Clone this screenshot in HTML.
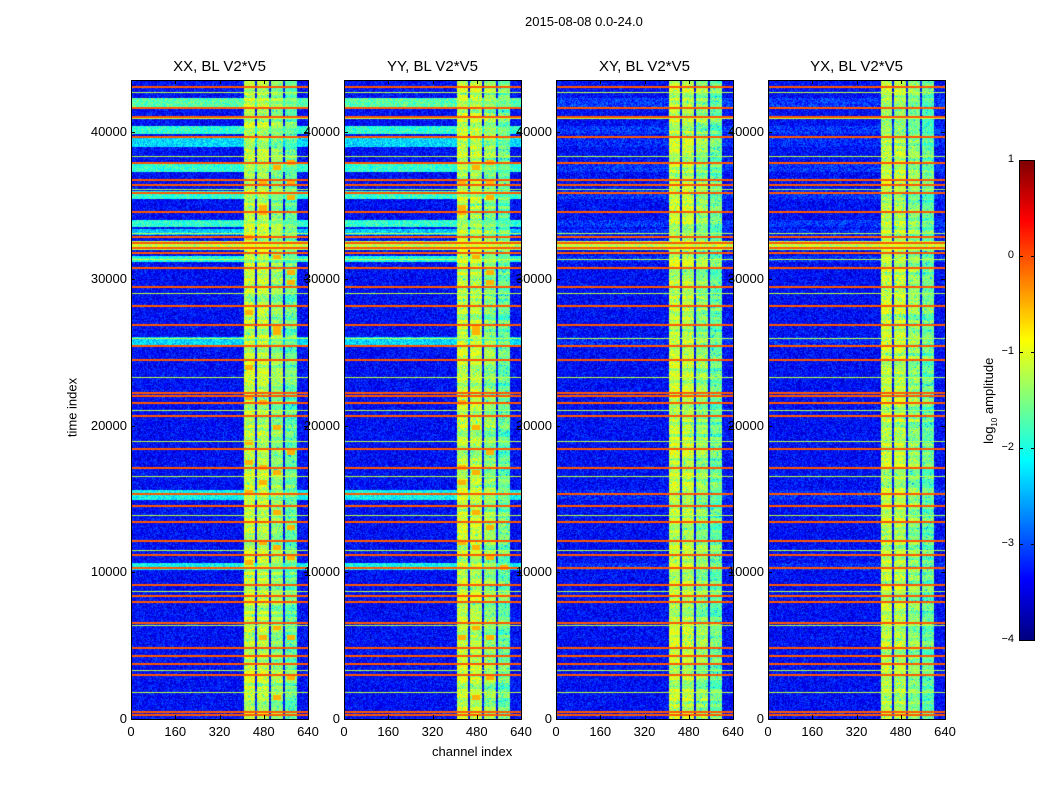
<!DOCTYPE html>
<html><head><meta charset="utf-8">
<style>
body{margin:0;background:#fff;font-family:"Liberation Sans",sans-serif;}
#root{position:relative;width:1050px;height:800px;overflow:hidden;background:#fff;}
.t{position:absolute;font-size:13px;color:#000;white-space:nowrap;}
.title{position:absolute;font-size:15px;color:#000;white-space:nowrap;transform:translateX(-50%);}
canvas{position:absolute;}
.frame{position:absolute;border:1px solid #000;box-sizing:border-box;}
.tick{position:absolute;background:#000;}
</style></head>
<body>
<div id="root">
<div class="t" style="left:525px;top:14px;font-size:13px">2015-08-08 0.0-24.0</div>
<div class="t" style="left:432px;top:744px">channel index</div>
<div class="t" style="left:42px;top:400px;transform:rotate(-90deg);transform-origin:center;width:60px;text-align:center;">time index</div>
<div class="t" style="left:945px;top:392px;transform:rotate(-90deg);width:90px;text-align:center">log<sub style="font-size:8px">10</sub> amplitude</div>
</div>
<script>
// ---- data ----
const panelTitles = ["XX, BL V2*V5","YY, BL V2*V5","XY, BL V2*V5","YX, BL V2*V5"];
const panelLefts = [131,344,556,768];
const xTicks = [0,160,320,480,640];
const yTicks = [0,10000,20000,30000,40000];
const cbTicks = [1,0,-1,-2,-3,-4];
// RFI time stripes (time index) at log10 amplitude ~0
const orangeRows = [43065,41634,41020,39658,37886,36728,36387,35842,34547,32844,32435,32094,31753,30731,29436,28141,26846,25415,24461,22212,22008,21532,20646,18398,17103,15331,14514,13423,12129,11175,10289,9130,8381,7972,6541,4838,4293,3748,2998,477,273];
// thin yellow-green lines
const greenRows = [42700,40900,38300,36100,33100,31300,29000,25900,23300,21000,18900,16500,13900,11500,8700,6400,3300,1800];
// wide bright bands [start, end, level]
const bandStart = [41702,39862,38977,37273,35433,33525,32980,31958,31140,25484,14923,10153];
const bandEnd   = [42315,40407,39590,37886,35978,34002,33389,32571,31549,26030,15604,10630];
const bandLevel = [-1.7,-1.9,-2.3,-1.9,-1.9,-1.9,-2.4,-1.2,-2.0,-2.3,-2.1,-2.1];
// per-panel visibility of wide bands (cross-pols lack them)
const panelBandFactor = [1,1,0.15,0.15];
// active channel blocks
const chanStart = [408,456,506,557];
const chanEnd   = [448,499,550,600];
const chanLevel = [-1.15,-1.2,-1.4,-1.6];
const baseLevel = -3.35;
const tMax = 43500, chMax = 640;

// ---- geometry ----
const pTop=80, pBot=719, pW=177;
const yPix = t => pBot - t/10000*146.75;
const xPix = (c,L) => L + c/chMax*pW;

function jet(v){
  let t=(v+4)/5; t=Math.max(0,Math.min(1,t));
  const c=x=>Math.max(0,Math.min(1,x));
  return [c(1.5-Math.abs(4*t-3))*255,c(1.5-Math.abs(4*t-2))*255,c(1.5-Math.abs(4*t-1))*255];
}
function hash(a,b){let h=(a*374761393+b*668265263)|0;h=(h^(h>>>13))*1274126177|0;return ((h^(h>>>16))>>>0)/4294967296;}

const root=document.getElementById('root');
function add(tag,cls,style,name,inter){
  const e=document.createElement(tag);
  if(cls)e.className=cls;
  e.style.cssText=style;
  
  
  root.appendChild(e);return e;
}

panelTitles.forEach((title,p)=>{
  const L=panelLefts[p];
  const H=pBot-pTop;
  const cv=add('canvas','',`left:${L}px;top:${pTop}px;width:${pW}px;height:${H}px`,'heatmap-'+p,'false');
  cv.width=pW;cv.height=H;
  const ctx=cv.getContext('2d');
  const img=ctx.createImageData(pW,H);
  for(let y=0;y<H;y++){
    const t=(pBot-(pTop+y+0.5))/146.75*10000;
    let row=baseLevel;
    for(let i=0;i<bandStart.length;i++){
      if(t>=bandStart[i]&&t<=bandEnd[i]){
        const f=panelBandFactor[i===7?0:p];
        row=Math.max(row,baseLevel+(bandLevel[i]-baseLevel)*f);
      }
    }
    let stripe=null;
    for(const r of orangeRows){ if(Math.abs(yPix(r)-(pTop+y+0.5))<0.9){stripe=-0.05;} }
    if(stripe===null) for(const r of greenRows){ if(Math.abs(yPix(r)-(pTop+y+0.5))<0.5){stripe=-1.2;} }
    const rowVar=(hash(Math.floor(y/3),p+77)-0.5)*0.5;
    for(let x=0;x<pW;x++){
      const ch=(x+0.5)/pW*chMax;
      let v=row+(hash(x+p*1000,y)-0.5)*0.8;
      for(let k=0;k<chanStart.length;k++){
        if(ch>=chanStart[k]&&ch<=chanEnd[k]){
          let bv=chanLevel[k]+rowVar+(hash(y*7+k,x+p)-0.5)*0.5;
          if(hash(y*13+x,k+p*5)>0.93) bv-=0.8;
          if((p===0||p===1) && hash(Math.floor(y/5),k+11+p)>0.95 && Math.abs(ch-(chanStart[k]+chanEnd[k])/2)<14) bv=-0.5;
          v=Math.max(v,bv);
        }
      }
      if(stripe!==null) v=stripe;
      const c=jet(v);const o=(y*pW+x)*4;
      img.data[o]=c[0];img.data[o+1]=c[1];img.data[o+2]=c[2];img.data[o+3]=255;
    }
  }
  ctx.putImageData(img,0,0);
  add('div','frame',`left:${L}px;top:${pTop}px;width:${pW+1}px;height:${H+1}px`,'panel-frame-'+p,'false');
  const tt=add('div','title',`left:${L+pW/2}px;top:58px`,'panel-title-'+p,'false');tt.textContent=title;
  xTicks.forEach(v=>{
    const x=xPix(v,L);
    add('div','tick',`left:${x}px;top:${pBot-4}px;width:1px;height:4px`,'x-tick','false');
    add('div','tick',`left:${x}px;top:${pTop}px;width:1px;height:4px`,'x-tick','false');
    const l=add('div','t',`left:${x}px;top:724px;transform:translateX(-50%)`,'x-tick-label','false');l.textContent=v;
  });
  yTicks.forEach(v=>{
    const y=yPix(v);
    add('div','tick',`left:${L}px;top:${y}px;width:4px;height:1px`,'y-tick','false');
    add('div','tick',`left:${L+pW-4}px;top:${y}px;width:4px;height:1px`,'y-tick','false');
    const l=add('div','t',`right:${1050-L+4}px;top:${y-8}px`,'y-tick-label','false');l.textContent=v;
  });
});

// colorbar
const cb=add('canvas','',`left:1019px;top:160px;width:15px;height:480px`,'colorbar','false');
cb.width=15;cb.height=480;
const cctx=cb.getContext('2d');
for(let y=0;y<480;y++){const c=jet(1-5*(y+0.5)/480);cctx.fillStyle=`rgb(${c[0]|0},${c[1]|0},${c[2]|0})`;cctx.fillRect(0,y,15,1);}
add('div','frame','left:1019px;top:160px;width:16px;height:481px','colorbar-frame','false');
cbTicks.forEach(v=>{
  const y=160+(1-v)/5*480;
  add('div','tick',`left:1019px;top:${y}px;width:4px;height:1px`,'colorbar-tick','false');
  add('div','tick',`left:1031px;top:${y}px;width:4px;height:1px`,'colorbar-tick','false');
  const l=add('div','t',`right:${1050-1014}px;top:${y-7}px;font-size:11px`,'colorbar-tick-label','false');
  l.textContent=v<0?'\u2212'+(-v):v;
});
</script>
</body></html>
